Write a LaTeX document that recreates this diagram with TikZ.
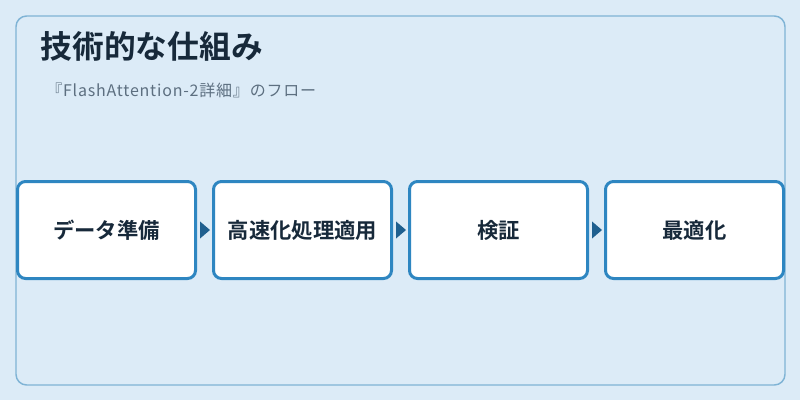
\documentclass[tikz,border=0pt]{standalone}
\usepackage{fontspec}
\newfontfamily\cjk[LetterSpace=5]{Noto Sans CJK JP}
\newfontfamily\cjkb{Noto Sans CJK JP Bold}
\definecolor{bgc}{HTML}{DCEBF7}
\definecolor{framec}{HTML}{7FB3D5}
\definecolor{boxc}{HTML}{2E86C1}
\definecolor{arrowc}{HTML}{1F5F8F}
\definecolor{titlec}{HTML}{17293A}
\definecolor{subc}{HTML}{5D6F80}
\begin{document}
\begin{tikzpicture}[x=0.75pt,y=-0.75pt,
  stepbox/.style={draw=boxc, line width=2.25pt, fill=white, rounded corners=6pt,
    minimum width=133.5pt, minimum height=72.75pt, inner sep=0pt,
    text height=14pt, text depth=1pt,
    font=\cjkb\fontsize{16pt}{18pt}\selectfont, text=titlec},
  flowtip/.style={fill=arrowc}]
\useasboundingbox (0,0) rectangle (800,400);
\fill[bgc] (0,0) rectangle (800,400);
\draw[framec, line width=1.1pt, rounded corners=8pt] (16,16) rectangle (785,385);
\node[anchor=base west, inner sep=0pt, text=titlec, font=\cjkb\fontsize{23.8pt}{26pt}\selectfont] (title) at (40.5,58.5) {技術的な仕組み};
\node[anchor=base west, inner sep=0pt, text=subc, font=\cjk\fontsize{12pt}{14pt}\selectfont] (sub) at (46,96) {『FlashAttention-2詳細』のフロー};
\node[stepbox] (b1) at (106.5,230) {データ準備};
\node[stepbox] (b2) at (302.5,230) {高速化処理適用};
\node[stepbox] (b3) at (498.5,230) {検証};
\node[stepbox] (b4) at (694.5,230) {最適化};
\foreach \a/\b in {b1/b2,b2/b3,b3/b4}{
  \fill[flowtip] ([xshift=2.25pt,yshift=6.4pt]\a.east) -- ([xshift=-1.5pt]\b.west) -- ([xshift=2.25pt,yshift=-6.4pt]\a.east) -- cycle;
}
\end{tikzpicture}
\end{document}
